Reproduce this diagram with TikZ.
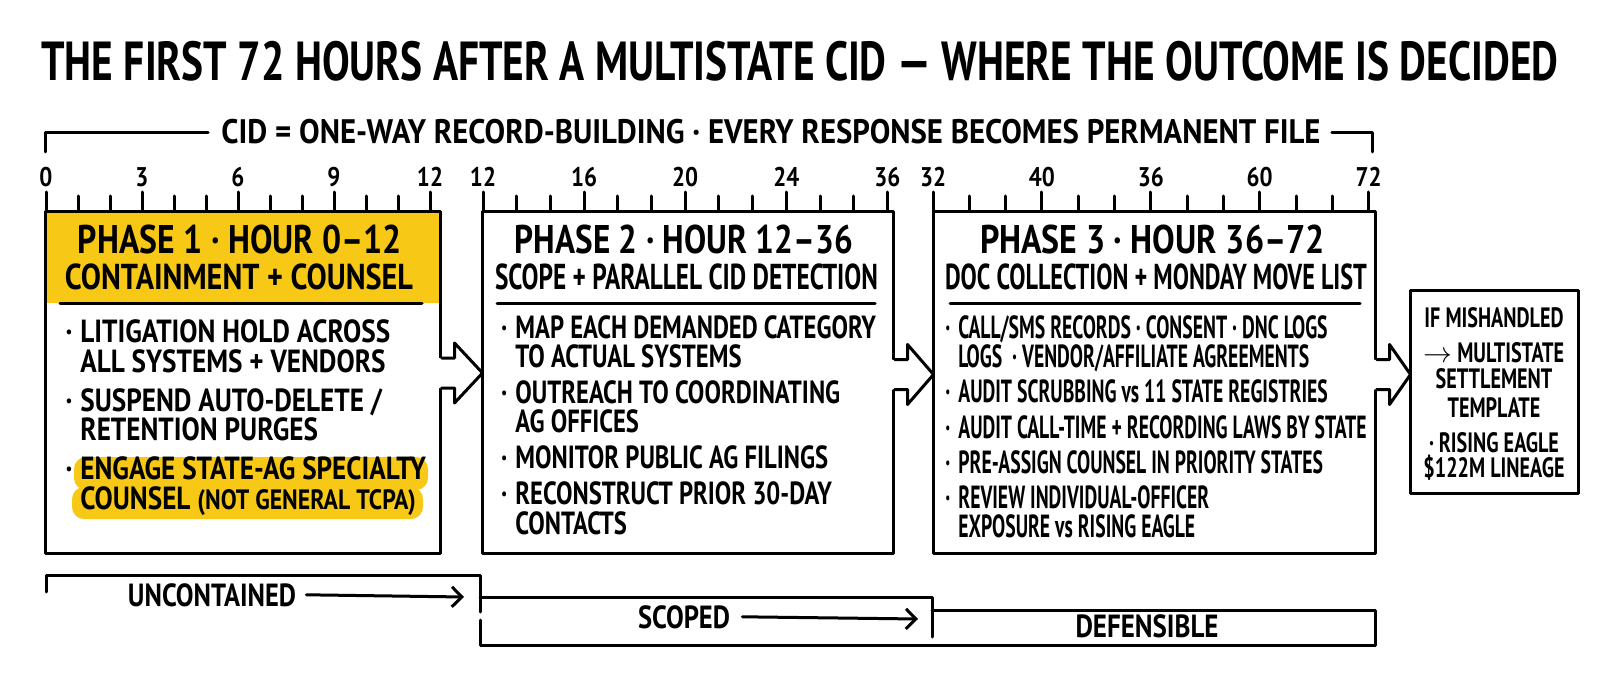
\documentclass[tikz,border=0pt]{standalone}
\usepackage{fontspec}
\setmainfont[FakeStretch=0.85]{PT Sans}
\newfontfamily\midfont[FakeStretch=0.77]{PT Sans}
\newfontfamily\sidefont[FakeStretch=0.72]{PT Sans}
\newfontfamily\tightfont[FakeStretch=0.615]{PT Sans}
\usetikzlibrary{calc,arrows.meta}
\definecolor{hlyellow}{RGB}{248,200,22}
\newlength\px
\setlength\px{0.5pt}
\newcommand\fitw[2]{\resizebox{#1\px}{\height}{#2}}
\newcommand\bul{\llap{·\hspace{8\px}}}
\newcommand\blockarrow[2]{%
  \fill[white] ($(#1)+(-2.5,-15)$) -- ($(#1)+(13,-15)$) -- ($(#1)+(13,-30)$) -- (#2)
    -- ($(#1)+(13,30)$) -- ($(#1)+(13,15)$) -- ($(#1)+(-2.5,15)$) -- cycle;
  \draw[ink] ($(#1)+(0,-15)$) -- ($(#1)+(13,-15)$) -- ($(#1)+(13,-30)$) -- (#2)
    -- ($(#1)+(13,30)$) -- ($(#1)+(13,15)$) -- ($(#1)+(0,15)$);
}

\begin{document}
\begin{tikzpicture}[x=0.5pt, y=-0.5pt,
    ink/.style={line width=1.5pt, line cap=round, line join=round},
    phasebox/.style={draw, ink, fill=white, minimum height=170.5pt},
    txt/.style={inner sep=0pt, anchor=base west, text height=11.5pt, text depth=1.5pt,
      font=\bfseries\fontsize{16}{19}\selectfont},
    midtxt/.style={txt, font=\midfont\bfseries\fontsize{16}{19}\selectfont},
    tighttxt/.style={txt, font=\tightfont\bfseries\fontsize{16}{19}\selectfont},
    head/.style={inner sep=0pt, anchor=base, font=\bfseries\fontsize{20}{24}\selectfont},
    subhead/.style={inner sep=0pt, anchor=base, font=\bfseries\fontsize{18}{21}\selectfont},
    ticklab/.style={inner sep=0pt, anchor=base, font=\bfseries\fontsize{13.5}{16}\selectfont},
    sidetxt/.style={inner sep=0pt, anchor=base, text height=10pt, text depth=1.5pt,
      font=\sidefont\bfseries\fontsize{14}{17}\selectfont},
    stagetxt/.style={inner sep=0pt, anchor=base, font=\bfseries\fontsize{16}{19}\selectfont},
    barb/.style={ink, -{Straight Barb[length=5pt,width=10pt]}}
  ]
  \fill[white] (0,0) rectangle (1600,679);
  \useasboundingbox (0,0) rectangle (1600,679);

  % title and top bracket
  \node[inner sep=0pt, anchor=base, font=\bfseries\fontsize{27.5}{32}\selectfont] (title) at (800,81)
    {\fitw{1517}{THE FIRST 72 HOURS AFTER A MULTISTATE CID — WHERE THE OUTCOME IS DECIDED}};
  \node[inner sep=0pt, anchor=base, font=\bfseries\fontsize{17}{20}\selectfont] (cid) at (771,144)
    {\fitw{1099}{CID = ONE-WAY RECORD-BUILDING · EVERY RESPONSE BECOMES PERMANENT FILE}};
  \coordinate (brl) at (45,152);
  \coordinate (brr) at (1372,152);
  \draw[ink] (brl) |- ($(cid.west)+(-13,0)$);
  \draw[ink] (brr) |- ($(cid.east)+(11,0)$);

  % phase boxes
  \node[phasebox, minimum width=197.5pt] (box1) at (242.5,382.5) {};
  \node[phasebox, minimum width=205.5pt] (box2) at (687.5,382.5) {};
  \node[phasebox, minimum width=221pt] (box3) at (1154,382.5) {};
  \node[draw, ink, fill=white, minimum width=84pt, minimum height=101.5pt] (side) at (1494,391.5) {};
  \fill[hlyellow] (46.5,213.5) rectangle (438.5,303);
  \draw[ink] (60,303) -- (422,303);
  \draw[ink] (497,303) -- (875,303);
  \draw[ink] (950,303) -- (1360,303);

  % rulers
  \foreach \i in {0,...,12} \draw[ink] (46+32*\i,210) -- (46+32*\i,196);
  \foreach \i in {0,3,...,12} \draw[ink] (46+32*\i,210) -- (46+32*\i,192);
  \foreach \lab [count=\k from 0] in {0,3,6,9,12}
    \node[ticklab] (ra\k) at (46+96*\k,187) {\lab};
  \foreach \i in {0,...,12} \draw[ink] (483+33.7*\i,210) -- (483+33.7*\i,196);
  \foreach \i in {0,3,...,12} \draw[ink] (483+33.7*\i,210) -- (483+33.7*\i,192);
  \foreach \lab [count=\k from 0] in {12,16,20,24,36}
    \node[ticklab] (rb\k) at (483+101.1*\k,187) {\lab};
  \foreach \i in {0,...,12} \draw[ink] (933+36.3*\i,210) -- (933+36.3*\i,196);
  \foreach \i in {0,3,...,12} \draw[ink] (933+36.3*\i,210) -- (933+36.3*\i,192);
  \foreach \lab [count=\k from 0] in {32,40,36,60,72}
    \node[ticklab] (rc\k) at (933+108.9*\k,187) {\lab};

  % headers
  \node[head] (h1a) at (240,253) {\fitw{324}{PHASE 1 · HOUR 0–12}};
  \node[subhead] (h1b) at (239,290) {\fitw{348}{CONTAINMENT + COUNSEL}};
  \node[head] (h2a) at (684,253) {\fitw{338}{PHASE 2 · HOUR 12–36}};
  \node[subhead] (h2b) at (686.5,290) {\fitw{383}{SCOPE + PARALLEL CID DETECTION}};
  \node[head] (h3a) at (1152.5,253) {\fitw{345}{PHASE 3 · HOUR 36–72}};
  \node[subhead] (h3b) at (1156,290) {\fitw{422}{DOC COLLECTION + MONDAY MOVE LIST}};

  % phase 1 items
  \fill[hlyellow, rounded corners=6pt] (74,457) rectangle (428,490);
  \fill[hlyellow, rounded corners=6pt] (72,487) rectangle (423,519);
  \foreach \yy/\txt [count=\n] in {342/{\bul LITIGATION HOLD ACROSS}, 372/{ALL SYSTEMS + VENDORS},
      411/{\bul SUSPEND AUTO-DELETE /}, 440/{RETENTION PURGES},
      479/{\bul ENGAGE STATE-AG SPECIALTY}, 509.5/{COUNSEL {\fontsize{14}{17}\selectfont(NOT GENERAL TCPA)}}}
    \node[txt] (pa\n) at (80,\yy) {\txt};

  % phase 2 items
  \foreach \yy/\txt [count=\n] in {338/{\bul MAP EACH DEMANDED CATEGORY}, 367/{TO ACTUAL SYSTEMS},
      403/{\bul OUTREACH TO COORDINATING}, 432/{AG OFFICES},
      468/{\bul MONITOR PUBLIC AG FILINGS},
      504/{\bul RECONSTRUCT PRIOR 30-DAY}, 534.5/{CONTACTS}}
    \node[midtxt] (pb\n) at (515,\yy) {\txt};

  % phase 3 items
  \foreach \yy/\txt [count=\n] in {338/{\bul CALL/SMS RECORDS · CONSENT · DNC LOGS},
      367/{LOGS~~· VENDOR/AFFILIATE AGREEMENTS},
      402/{\bul AUDIT SCRUBBING vs 11 STATE REGISTRIES},
      438/{\bul AUDIT CALL-TIME + RECORDING LAWS BY STATE},
      473/{\bul PRE-ASSIGN COUNSEL IN PRIORITY STATES},
      508/{\bul REVIEW INDIVIDUAL-OFFICER}, 537/{EXPOSURE vs RISING EAGLE}}
    \node[tighttxt] (pc\n) at (958,\yy) {\txt};

  % side note
  \foreach \yy/\txt [count=\n] in {328/{IF MISHANDLED}, 362/{$\rightarrow$\,MULTISTATE},
      388/{SETTLEMENT}, 417/{TEMPLATE}, 452/{·\,RISING EAGLE}, 477/{\$122M LINEAGE}}
    \node[sidetxt] (sd\n) at (1494,\yy) {\txt};

  % arrows between phases
  \coordinate (a1) at ($(box1.east)+(0,-9.5)$);
  \coordinate (a1t) at ($(a1 -| box2.west)+(2,0)$);
  \coordinate (a2) at ($(box2.east)+(0,-8)$);
  \coordinate (a2t) at ($(a2 -| box3.west)+(2,0)$);
  \coordinate (a3) at ($(box3.east)+(0,-8)$);
  \coordinate (a3t) at ($(a3 -| side.west)+(2,0)$);
  \blockarrow{a1}{a1t}
  \blockarrow{a2}{a2t}
  \blockarrow{a3}{a3t}

  % state bars
  \node[stagetxt] (uncont) at (212,606) {\fitw{168}{UNCONTAINED}};
  \node[stagetxt] (scoped) at (684,628) {\fitw{92}{SCOPED}};
  \node[stagetxt] (defens) at (1147,637) {\fitw{143}{DEFENSIBLE}};
  \draw[ink] (46,592) -- (46,575) -- (480,575) -- (480,612);
  \draw[ink] (480,620) -- (480,645) -- (1375,645) -- (1375,610) -- (932,610);
  \draw[ink] (480,597) -- (932,597) -- (932,637);
  \coordinate (ua) at (464,597);
  \coordinate (sa) at (918,619);
  \draw[barb] ($(uncont.east)+(10,0)$) -- (ua);
  \draw[barb] ($(scoped.east)+(12,0)$) -- (sa);
\end{tikzpicture}
\end{document}
